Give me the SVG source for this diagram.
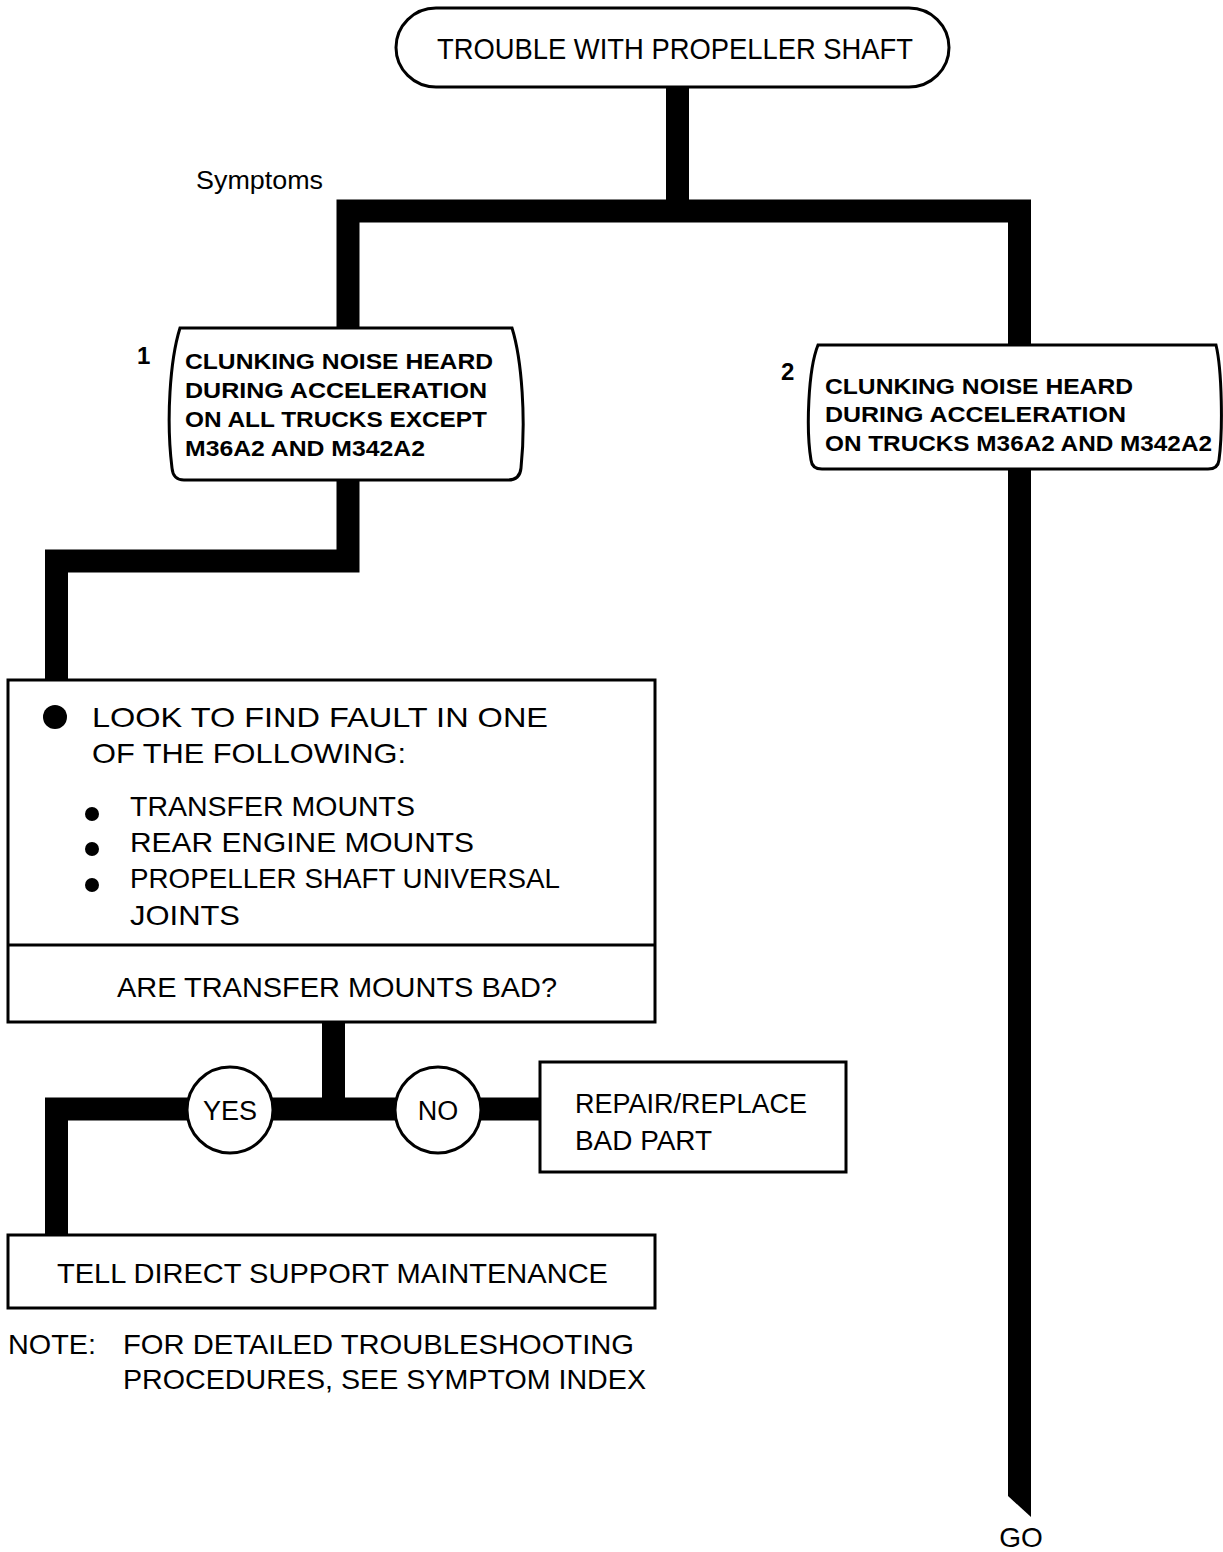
<svg xmlns="http://www.w3.org/2000/svg" width="1223" height="1552" viewBox="0 0 1223 1552">
<style>
.t{font-family:"Liberation Sans","DejaVu Sans",sans-serif;fill:#000}
.b{font-weight:bold}
.box{fill:#fff;stroke:#000;stroke-width:3}
.bar{fill:none;stroke:#000;stroke-width:23;stroke-linejoin:miter}
</style>
<rect width="1223" height="1552" fill="#fff"/>
<g id="connectors">
<polyline class="bar" points="677.5,86 677.5,211"/>
<polyline class="bar" points="348,330 348,211 1019.5,211 1019.5,347"/>
<polyline class="bar" points="348,478 348,561 56.5,561 56.5,681"/>
<polyline class="bar" points="333.5,1021 333.5,1109"/>
<polyline class="bar" points="56.5,1236 56.5,1109 541,1109"/>
<polygon points="1008,467 1031,467 1031,1517 1008,1496" fill="#000"/>
</g>
<g id="start">
<rect class="box" x="396" y="8" width="553" height="79" rx="40"/>
<text class="t" x="437" y="59" font-size="30" textLength="476" lengthAdjust="spacingAndGlyphs">TROUBLE WITH PROPELLER SHAFT</text>
</g>
<g id="symptoms-label">
<text class="t" x="196" y="189" font-size="25" textLength="127" lengthAdjust="spacingAndGlyphs">Symptoms</text>
</g>
<g id="symptom1">
<path class="box" d="M180,328 H512 C522,360 526,420 521,468 Q520,480 508,480 H184 Q173,480 172,468 C166,420 170,360 180,328 Z"/>
<text class="t b" x="137" y="364" font-size="24">1</text>
<text class="t b" x="185" y="369" font-size="22" textLength="308" lengthAdjust="spacingAndGlyphs">CLUNKING NOISE HEARD</text>
<text class="t b" x="185" y="398" font-size="22" textLength="302" lengthAdjust="spacingAndGlyphs">DURING ACCELERATION</text>
<text class="t b" x="185" y="427" font-size="22" textLength="302" lengthAdjust="spacingAndGlyphs">ON ALL TRUCKS EXCEPT</text>
<text class="t b" x="185" y="456" font-size="22" textLength="240" lengthAdjust="spacingAndGlyphs">M36A2 AND M342A2</text>
</g>
<g id="symptom2">
<path class="box" d="M818,345 H1216 C1222,370 1223,430 1219,460 Q1218,469 1208,469 H822 Q812,469 811,460 C806,430 808,370 818,345 Z"/>
<text class="t b" x="781" y="380" font-size="24">2</text>
<text class="t b" x="825" y="394" font-size="22" textLength="308" lengthAdjust="spacingAndGlyphs">CLUNKING NOISE HEARD</text>
<text class="t b" x="825" y="422" font-size="22" textLength="301" lengthAdjust="spacingAndGlyphs">DURING ACCELERATION</text>
<text class="t b" x="825" y="451" font-size="22" textLength="387" lengthAdjust="spacingAndGlyphs">ON TRUCKS M36A2 AND M342A2</text>
</g>
<g id="look-box">
<rect class="box" x="8" y="680" width="647" height="342"/>
<line x1="8" y1="945" x2="655" y2="945" stroke="#000" stroke-width="3"/>
<circle cx="55" cy="717" r="12" fill="#000"/>
<text class="t" x="92" y="727" font-size="28" textLength="456" lengthAdjust="spacingAndGlyphs">LOOK TO FIND FAULT IN ONE</text>
<text class="t" x="92" y="763" font-size="28" textLength="314" lengthAdjust="spacingAndGlyphs">OF THE FOLLOWING:</text>
<circle cx="92" cy="814" r="7" fill="#000"/>
<circle cx="92" cy="849" r="7" fill="#000"/>
<circle cx="92" cy="885" r="7" fill="#000"/>
<text class="t" x="130" y="816" font-size="28" textLength="285" lengthAdjust="spacingAndGlyphs">TRANSFER MOUNTS</text>
<text class="t" x="130" y="852" font-size="28" textLength="344" lengthAdjust="spacingAndGlyphs">REAR ENGINE MOUNTS</text>
<text class="t" x="130" y="888" font-size="28" textLength="430" lengthAdjust="spacingAndGlyphs">PROPELLER SHAFT UNIVERSAL</text>
<text class="t" x="130" y="925" font-size="28" textLength="110" lengthAdjust="spacingAndGlyphs">JOINTS</text>
<text class="t" x="117" y="997" font-size="28" textLength="440" lengthAdjust="spacingAndGlyphs">ARE TRANSFER MOUNTS BAD?</text>
</g>
<g id="yes">
<circle class="box" cx="230" cy="1110" r="43"/>
<text class="t" x="230" y="1120" font-size="27" text-anchor="middle">YES</text>
</g>
<g id="no">
<circle class="box" cx="438" cy="1110" r="43"/>
<text class="t" x="438" y="1120" font-size="27" text-anchor="middle">NO</text>
</g>
<g id="repair">
<rect class="box" x="540" y="1062" width="306" height="110"/>
<text class="t" x="575" y="1113" font-size="28" textLength="232" lengthAdjust="spacingAndGlyphs">REPAIR/REPLACE</text>
<text class="t" x="575" y="1150" font-size="28" textLength="137" lengthAdjust="spacingAndGlyphs">BAD PART</text>
</g>
<g id="tell">
<rect class="box" x="8" y="1235" width="647" height="73"/>
<text class="t" x="57" y="1283" font-size="28" textLength="551" lengthAdjust="spacingAndGlyphs">TELL DIRECT SUPPORT MAINTENANCE</text>
</g>
<g id="note">
<text class="t" x="8" y="1354" font-size="28" textLength="88" lengthAdjust="spacingAndGlyphs">NOTE:</text>
<text class="t" x="123" y="1354" font-size="28" textLength="511" lengthAdjust="spacingAndGlyphs">FOR DETAILED TROUBLESHOOTING</text>
<text class="t" x="123" y="1389" font-size="28" textLength="523" lengthAdjust="spacingAndGlyphs">PROCEDURES, SEE SYMPTOM INDEX</text>
</g>
<g id="go">
<text class="t" x="1021" y="1547" font-size="28" text-anchor="middle">GO</text>
</g>
</svg>
